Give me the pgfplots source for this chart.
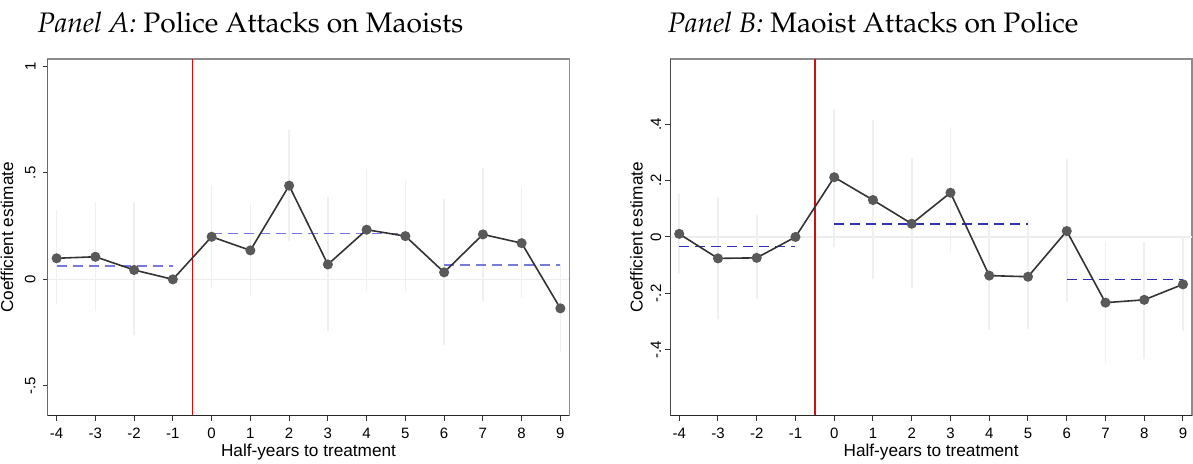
\documentclass[border=0pt]{standalone}
\usepackage[T1]{fontenc}
\usepackage{fontspec}
\setmainfont{Liberation Sans}
\usepackage{pgfplots}
\usepackage{pgfplotstable}
\pgfplotsset{compat=1.18}

\definecolor{redline}{HTML}{D01010}
\definecolor{dashA}{HTML}{7878E0}
\definecolor{dashB}{HTML}{3030B4}
\definecolor{ciGray}{HTML}{F0F0F0}

% x  estimate  lower  upper
\pgfplotstableread{
x b lo hi
-4 0.099 -0.117 0.325
-3 0.106 -0.147 0.361
-2 0.044 -0.260 0.361
-1 0.000 0.000 0.000
0 0.200 -0.042 0.440
1 0.136 -0.080 0.357
2 0.440 0.178 0.700
3 0.070 -0.243 0.388
4 0.233 -0.053 0.520
5 0.203 -0.061 0.466
6 0.033 -0.308 0.376
7 0.211 -0.102 0.524
8 0.170 -0.089 0.435
9 -0.136 -0.340 0.070
}\panelA

\pgfplotstableread{
x b lo hi
-4 0.011 -0.132 0.152
-3 -0.076 -0.292 0.141
-2 -0.074 -0.220 0.078
-1 0.000 0.000 0.000
0 0.212 -0.034 0.454
1 0.131 -0.149 0.415
2 0.047 -0.182 0.279
3 0.157 -0.052 0.389
4 -0.137 -0.330 0.060
5 -0.141 -0.327 0.060
6 0.021 -0.229 0.275
7 -0.233 -0.448 -0.017
8 -0.223 -0.434 -0.017
9 -0.168 -0.333 0.001
}\panelB

\pgfplotsset{
  panel/.style={
    scale only axis, width=260.8pt, height=178.3pt,
    xmin=-4.23, xmax=9.23, xtick={-4,...,9},
    tick align=outside, xtick pos=bottom, ytick pos=left,
    major tick length=2.5pt, tick style={black!80, line width=0.5pt},
    axis line style={black!45, line width=0.6pt},
    /pgf/number format/assume math mode=true,
    ticklabel style={font=\fontsize{7.5}{9}\selectfont},
    yticklabel style={rotate=90, anchor=south},
    label style={font=\fontsize{8.6}{10}\selectfont},
    xlabel={Half-years to treatment},
    ylabel={Coefficient estimate},
    xlabel style={yshift=4pt},
    title style={anchor=center, xshift=-29pt, yshift=12pt,
      font=\fontsize{14.1}{17}\fontencoding{T1}\fontfamily{ppl}\selectfont},
  },
  cibars/.style={draw=none, mark=none, forget plot,
    error bars/.cd, y dir=both, y explicit, error mark=none,
    error bar style={ciGray, line width=0.8pt}},
  est/.style={color=black!80, line width=0.8pt, mark=*, mark size=2.1pt,
    mark options={fill=black!65, draw=black!65}},
  dashes/.style={line width=0.8pt, dash pattern=on 5pt off 3pt},
}

\begin{document}
\begin{tikzpicture}

\begin{axis}[panel,
  ymin=-0.64, ymax=1.034,
  ytick={-0.5,0,0.5,1}, yticklabels={-.5,0,.5,1},
  ylabel style={yshift=-1pt},
  title={\itshape Panel A:\upshape{} Police Attacks on Maoists}]
\draw[black!7, line width=0.6pt] (axis cs:-4.23,0) -- (axis cs:9.23,0);
\addplot[cibars] table[x=x, y=b,
  y error plus expr=\thisrow{hi}-\thisrow{b},
  y error minus expr=\thisrow{b}-\thisrow{lo}] {\panelA};
\draw[redline, line width=0.65pt] (axis cs:-0.5,-0.64) -- (axis cs:-0.5,1.034);
\addplot[dashA, dashes] coordinates {(-4,0.064) (-1,0.064)};
\addplot[dashA, dashes] coordinates {(0,0.216) (5,0.216)};
\addplot[dashA, dashes] coordinates {(6,0.067) (9,0.067)};
\addplot[est] table[x=x, y=b] {\panelA};
\draw[black!85, line width=0.6pt] (rel axis cs:0,1) -- (rel axis cs:0,0) -- (rel axis cs:1,0);
\end{axis}

\begin{axis}[panel, xshift=311.3pt,
  ymin=-0.634, ymax=0.631,
  ytick={-0.4,-0.2,0,0.2,0.4}, yticklabels={-.4,-.2,0,.2,.4},
  yticklabel style={yshift=-1.5pt},
  ylabel style={yshift=-3pt},
  title={\itshape Panel B:\upshape{} Maoist Attacks on Police}]
\draw[black!7, line width=0.6pt] (axis cs:-4.23,0) -- (axis cs:9.23,0);
\addplot[cibars] table[x=x, y=b,
  y error plus expr=\thisrow{hi}-\thisrow{b},
  y error minus expr=\thisrow{b}-\thisrow{lo}] {\panelB};
\draw[redline, line width=0.65pt] (axis cs:-0.5,-0.634) -- (axis cs:-0.5,0.631);
\addplot[dashB, dashes] coordinates {(-4,-0.034) (-1,-0.034)};
\addplot[dashB, dashes] coordinates {(0,0.045) (5,0.045)};
\addplot[dashB, dashes] coordinates {(6,-0.151) (9,-0.151)};
\addplot[est] table[x=x, y=b] {\panelB};
\draw[black!85, line width=0.6pt] (rel axis cs:0,1) -- (rel axis cs:0,0) -- (rel axis cs:1,0);
\end{axis}

\pgfresetboundingbox
\path[use as bounding box] (-23.85pt,-24.15pt) rectangle (572.65pt,207.85pt);
\end{tikzpicture}
\end{document}
